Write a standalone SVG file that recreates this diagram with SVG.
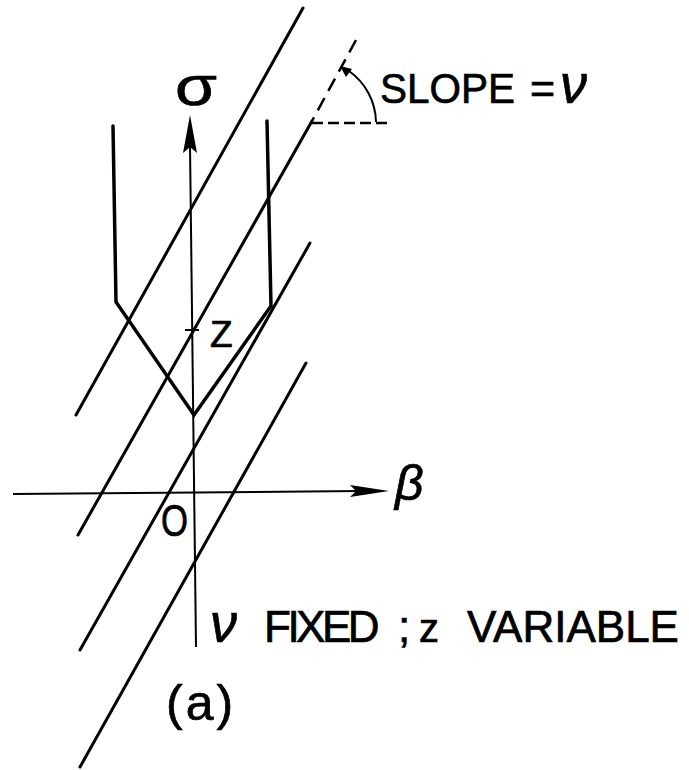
<svg xmlns="http://www.w3.org/2000/svg" width="689" height="770" viewBox="0 0 689 770">
<style>
.ln{stroke:#000;stroke-width:3;fill:none;stroke-linecap:round}
.ax{stroke:#000;stroke-width:2;fill:none}
.vv{stroke:#000;stroke-width:3.5;fill:none;stroke-linejoin:miter;stroke-linecap:round}
.ds{stroke:#000;stroke-width:2.5;fill:none}
.t{font-family:"Liberation Sans","DejaVu Sans",sans-serif;fill:#000;stroke:#000;stroke-width:0.7}
.it{font-style:italic}
</style>
<rect width="689" height="770" fill="#fff"/>
<g id="lines">
<line class="ln" x1="303" y1="8" x2="76" y2="415"/>
<line class="ds" x1="356" y1="40" x2="312" y2="121" stroke-dasharray="14,8"/>
<line class="ln" x1="312" y1="121" x2="78" y2="535"/>
<line class="ln" x1="310" y1="243" x2="80" y2="650"/>
<line class="ln" x1="306" y1="363" x2="80" y2="767"/>
</g>
<g id="curve">
<polyline class="vv" points="113,126 116,302 194,415 271,306 267,121"/>
</g>
<g id="axes">
<line class="ax" x1="196" y1="647" x2="190" y2="145"/>
<polygon points="190,115 197,153 190,147 183,153" fill="#000"/>
<line class="ax" x1="13" y1="494" x2="360" y2="491"/>
<polygon points="389,491 350,485 356,491 350,497" fill="#000"/>
<line class="ax" x1="185" y1="330" x2="199" y2="330" stroke-width="2.5"/>
</g>
<g id="slope">
<line class="ds" x1="312" y1="123" x2="389" y2="123" stroke-dasharray="11,5"/>
<path class="ax" d="M376 122 A64 64 0 0 0 349 71"/>
<polygon points="340,66 352,69 346,77" fill="#000"/>
</g>
<g id="labels">
<text class="t" x="175" y="105" font-size="56" textLength="42" lengthAdjust="spacingAndGlyphs">σ</text>
<text class="t" x="380" y="103" font-size="43"><tspan textLength="135" lengthAdjust="spacingAndGlyphs">SLOPE</tspan><tspan x="530">=</tspan><tspan class="it" x="560" font-size="54">ν</tspan></text>
<text class="t" x="210" y="347" font-size="37">Z</text>
<text class="t it" x="395" y="500" font-size="50">β</text>
<text class="t" x="161" y="536" font-size="45" textLength="27" lengthAdjust="spacingAndGlyphs">O</text>
<text class="t" x="210" y="642" font-size="44"><tspan class="it" font-size="54">ν</tspan><tspan x="264" letter-spacing="-3.5">FIXED</tspan><tspan x="398">;</tspan><tspan x="419" font-size="40">z</tspan><tspan x="467">VARIABLE</tspan></text>
<text class="t" x="166" y="720" font-size="50" letter-spacing="3">(a)</text>
</g>
</svg>
